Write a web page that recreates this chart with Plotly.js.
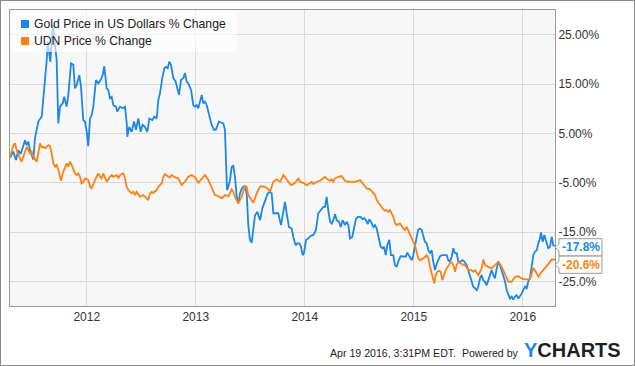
<!DOCTYPE html>
<html><head><meta charset="utf-8">
<script src="https://cdn.plot.ly/plotly-3.0.1.min.js"></script>
<style>
html,body{margin:0;padding:0;background:#fff;}
#wrap{position:relative;width:635px;height:366px;}
#chart{position:absolute;left:0;top:0;width:635px;height:366px;}
#frame{position:absolute;left:0;top:0;width:635px;height:366px;box-sizing:border-box;border:1px solid #8a8a8a;pointer-events:none;}
</style></head><body>
<div id="wrap"><div id="chart"></div><div id="frame"></div></div>
<script>
const seriesNames = ['Gold Price in US Dollars % Change', 'UDN Price % Change'];
const seriesColors = ['#1b87e6', '#fd8214'];

const goldYears = [
2011.296,2011.326,2011.351,2011.372,2011.394,2011.418,2011.434,2011.449,2011.464,2011.479,
2011.495,2011.510,2011.525,2011.541,2011.556,2011.587,2011.601,2011.617,2011.633,2011.642,
2011.657,2011.666,2011.679,2011.688,2011.724,2011.739,2011.755,2011.779,2011.794,2011.816,
2011.831,2011.856,2011.877,2011.892,2011.908,2011.932,2011.947,2011.968,2011.984,2012.000,
2012.014,2012.030,2012.046,2012.060,2012.085,2012.106,2012.128,2012.146,2012.161,2012.183,
2012.198,2012.213,2012.229,2012.244,2012.268,2012.280,2012.305,2012.330,2012.351,2012.367,
2012.372,2012.390,2012.412,2012.434,2012.452,2012.473,2012.495,2012.513,2012.534,2012.556,
2012.574,2012.601,2012.620,2012.642,2012.657,2012.672,2012.693,2012.712,2012.727,2012.743,
2012.757,2012.773,2012.794,2012.816,2012.831,2012.846,2012.865,2012.886,2012.901,2012.917,
2012.932,2012.957,2012.978,2012.993,2013.009,2013.023,2013.039,2013.055,2013.069,2013.085,
2013.101,2013.115,2013.131,2013.146,2013.168,2013.186,2013.201,2013.213,2013.232,2013.253,
2013.268,2013.278,2013.287,2013.299,2013.314,2013.330,2013.345,2013.360,2013.376,2013.390,
2013.406,2013.422,2013.436,2013.452,2013.468,2013.482,2013.498,2013.513,2013.528,2013.544,
2013.565,2013.590,2013.611,2013.635,2013.660,2013.681,2013.697,2013.712,2013.736,2013.757,
2013.782,2013.803,2013.819,2013.834,2013.856,2013.880,2013.895,2013.917,2013.932,2013.950,
2013.966,2013.981,2013.993,2014.012,2014.033,2014.055,2014.079,2014.103,2014.124,2014.146,
2014.170,2014.186,2014.201,2014.216,2014.232,2014.247,2014.262,2014.278,2014.293,2014.314,
2014.330,2014.348,2014.369,2014.385,2014.400,2014.415,2014.436,2014.452,2014.470,2014.491,
2014.513,2014.532,2014.546,2014.562,2014.578,2014.592,2014.608,2014.629,2014.645,2014.660,
2014.675,2014.697,2014.712,2014.727,2014.743,2014.757,2014.776,2014.791,2014.812,2014.828,
2014.844,2014.858,2014.880,2014.904,2014.926,2014.941,2014.959,2014.981,2014.996,2015.012,
2015.027,2015.042,2015.057,2015.073,2015.088,2015.103,2015.119,2015.134,2015.149,2015.165,
2015.179,2015.195,2015.211,2015.225,2015.241,2015.262,2015.287,2015.302,2015.317,2015.333,
2015.348,2015.363,2015.378,2015.394,2015.409,2015.431,2015.445,2015.464,2015.486,2015.501,
2015.516,2015.532,2015.546,2015.562,2015.578,2015.592,2015.608,2015.623,2015.638,2015.654,
2015.669,2015.684,2015.700,2015.715,2015.730,2015.745,2015.761,2015.776,2015.791,2015.807,
2015.822,2015.837,2015.853,2015.867,2015.883,2015.899,2015.913,2015.929,2015.944,2015.959,
2015.975,2015.990,2016.005,2016.021,2016.036,2016.051,2016.066,2016.082,2016.097,2016.112,
2016.128,2016.143,2016.158,2016.167,2016.183,2016.198,2016.220,2016.234,2016.250,2016.266,
2016.280,2016.296];
const goldPct = [
0,1.3,-0.4,1.6,0.8,2.6,3.6,2.6,3.3,1.6,
0.6,-0.3,4.0,5.7,7.4,8.4,11.8,15.8,19.9,23.6,
21.2,19.5,23.9,27.0,19.9,7.0,10.4,11.1,12.4,10.4,
12.8,19.2,18.9,14.1,14.8,16.8,14.5,7.7,7.4,5.3,
2.4,8.0,8.7,10.4,15.8,15.1,15.8,16.8,18.6,14.1,
13.8,12.1,12.4,10.7,10.4,9.4,10.4,10.1,10.4,7.0,
4.3,6.3,5.3,7.4,5.7,8.0,5.3,6.7,6.3,5.3,
8.0,7.7,8.4,8.0,11.8,13.1,16.2,18.2,18.5,18.2,
19.5,18.9,16.2,15.5,14.1,12.8,15.8,16.2,17.2,15.5,
15.1,13.8,10.7,10.4,10.7,10.1,11.4,12.8,11.1,11.4,
10.7,9.4,8.0,6.7,5.7,5.8,6.7,7.4,7.2,7.0,
5.7,0.3,-6.5,-5.8,-4.5,-1.8,-1.6,-3.8,-7.9,-9.2,
-7.2,-6.2,-5.8,-5.8,-7.2,-13.6,-16.6,-17.2,-14.6,-11.6,
-10.9,-12.6,-10.2,-8.5,-7.2,-6.8,-7.2,-11.2,-11.2,-11.2,
-13.6,-10.6,-8.9,-11.2,-14.0,-14.3,-16.0,-17.7,-17.3,-17.3,
-18.0,-19.7,-19.3,-16.6,-16.3,-15.8,-15.6,-14.6,-11.2,-10.6,
-9.9,-9.9,-7.9,-10.6,-12.9,-13.3,-12.6,-11.4,-12.6,-12.9,
-14.0,-12.6,-13.6,-12.9,-13.6,-16.3,-16.0,-14.3,-12.3,-11.9,
-12.0,-12.4,-12.2,-12.6,-13.4,-12.4,-12.9,-14.0,-13.6,-14.3,
-16.0,-18.0,-18.3,-18.0,-19.7,-17.7,-16.6,-19.7,-19.7,-21.7,
-22.1,-21.0,-19.9,-19.9,-20.0,-19.2,-20.0,-20.7,-19.7,-17.5,
-16.0,-14.5,-14.3,-14.6,-16.0,-17.0,-17.3,-18.7,-19.3,-18.7,
-21.0,-22.7,-21.4,-20.7,-19.9,-19.7,-19.7,-19.7,-20.7,-21.0,
-20.0,-18.3,-19.3,-19.3,-21.0,-21.0,-20.7,-21.0,-21.7,-22.7,
-24.1,-24.8,-26.1,-26.4,-26.8,-26.1,-24.4,-23.7,-24.8,-25.1,
-25.8,-24.8,-23.4,-22.7,-23.7,-24.4,-22.4,-21.0,-21.7,-22.7,
-23.7,-25.0,-26.8,-27.8,-28.5,-28.1,-28.7,-28.1,-27.8,-28.5,
-28.1,-27.5,-26.8,-26.1,-26.4,-25.0,-24.4,-21.7,-19.7,-19.0,
-18.7,-17.3,-16.3,-15.1,-17.0,-15.6,-17.3,-18.3,-18.0,-16.0,
-17.7,-17.8];

const udnYears = [
2011.296,2011.327,2011.342,2011.357,2011.388,2011.403,2011.418,2011.449,2011.479,2011.495,
2011.510,2011.541,2011.571,2011.587,2011.602,2011.617,2011.648,2011.663,2011.678,2011.694,
2011.709,2011.724,2011.739,2011.755,2011.764,2011.779,2011.801,2011.816,2011.831,2011.846,
2011.862,2011.877,2011.892,2011.908,2011.923,2011.938,2011.953,2011.969,2011.984,2012.015,
2012.030,2012.045,2012.061,2012.076,2012.091,2012.106,2012.122,2012.137,2012.152,2012.168,
2012.183,2012.213,2012.229,2012.244,2012.275,2012.290,2012.305,2012.336,2012.351,2012.366,
2012.382,2012.412,2012.427,2012.443,2012.458,2012.489,2012.519,2012.550,2012.565,2012.580,
2012.596,2012.611,2012.626,2012.642,2012.657,2012.687,2012.703,2012.718,2012.749,2012.764,
2012.779,2012.810,2012.840,2012.856,2012.871,2012.901,2012.932,2012.963,2012.993,2013.024,
2013.054,2013.085,2013.116,2013.146,2013.177,2013.207,2013.238,2013.268,2013.299,2013.330,
2013.345,2013.360,2013.391,2013.421,2013.452,2013.467,2013.482,2013.528,2013.559,2013.590,
2013.605,2013.635,2013.666,2013.681,2013.712,2013.742,2013.773,2013.804,2013.834,2013.865,
2013.880,2013.911,2013.941,2013.956,2013.987,2014.018,2014.048,2014.064,2014.079,2014.109,
2014.140,2014.171,2014.186,2014.216,2014.232,2014.247,2014.262,2014.278,2014.308,2014.339,
2014.369,2014.400,2014.430,2014.461,2014.507,2014.538,2014.568,2014.599,2014.629,2014.645,
2014.660,2014.690,2014.721,2014.736,2014.752,2014.767,2014.782,2014.813,2014.828,2014.843,
2014.874,2014.904,2014.920,2014.935,2014.966,2014.996,2015.011,2015.042,2015.057,2015.088,
2015.119,2015.134,2015.149,2015.164,2015.189,2015.201,2015.216,2015.232,2015.247,2015.262,
2015.278,2015.293,2015.323,2015.339,2015.354,2015.369,2015.378,2015.394,2015.409,2015.440,
2015.470,2015.501,2015.531,2015.547,2015.562,2015.593,2015.608,2015.623,2015.638,2015.654,
2015.684,2015.715,2015.745,2015.776,2015.807,2015.837,2015.868,2015.898,2015.929,2015.959,
2015.990,2016.021,2016.051,2016.067,2016.082,2016.097,2016.112,2016.143,2016.174,2016.204,
2016.235,2016.265,2016.296];
const udnPct = [
0,2.63,2.97,1.61,-0.07,-0.76,0.25,2.28,0.94,1.27,
0.25,-0.76,2.97,2.16,2.28,1.96,2.63,2.42,0.94,-1.09,
-1.77,-1.43,-2.44,-4.13,-4.61,-3.11,-1.77,-1.09,-1.77,-0.76,
-1.43,-2.30,-3.11,-3.46,-3.11,-3.80,-5.14,-4.82,-4.13,-4.47,
-5.83,-6.16,-5.14,-4.47,-3.80,-3.11,-3.80,-4.13,-3.11,-4.13,
-4.82,-3.80,-3.46,-3.80,-3.46,-4.13,-3.46,-3.11,-4.13,-5.83,
-6.50,-7.17,-6.85,-7.51,-6.85,-7.86,-7.51,-8.18,-8.53,-7.17,
-6.85,-7.05,-6.85,-6.50,-5.83,-5.14,-3.80,-3.26,-3.80,-3.93,
-3.46,-3.93,-4.13,-4.82,-5.49,-4.82,-3.80,-3.46,-3.93,-5.02,
-4.33,-3.46,-4.47,-5.83,-7.51,-7.72,-8.18,-7.51,-7.72,-6.36,
-6.85,-7.86,-9.20,-7.86,-5.69,-5.83,-7.51,-9.08,-7.17,-5.83,
-5.69,-5.83,-6.36,-6.85,-4.82,-4.33,-4.82,-3.46,-4.47,-5.28,
-5.49,-5.02,-4.13,-4.82,-5.02,-5.49,-5.14,-4.82,-5.28,-4.82,
-4.61,-3.93,-3.80,-4.47,-4.61,-4.33,-4.82,-4.13,-3.80,-3.66,
-4.61,-4.82,-4.82,-4.82,-4.47,-5.28,-6.16,-6.36,-7.05,-7.51,
-8.53,-9.54,-10.42,-10.70,-10.56,-10.90,-10.56,-11.92,-13.13,-13.60,
-13.26,-14.27,-14.61,-13.95,-15.63,-16.99,-17.66,-20.35,-20.70,-20.35,
-19.69,-20.35,-22.06,-23.40,-25.43,-23.74,-23.07,-22.87,-23.07,-24.76,
-23.74,-22.73,-21.71,-21.04,-21.37,-22.06,-23.07,-21.71,-21.04,-21.51,
-21.71,-22.73,-22.73,-23.07,-22.73,-23.74,-23.07,-22.38,-20.56,-21.71,
-22.06,-22.38,-21.71,-21.04,-22.06,-23.74,-25.10,-25.10,-24.09,-23.95,
-24.41,-24.61,-24.61,-24.41,-23.40,-22.38,-22.73,-24.09,-23.07,-22.38,
-21.51,-20.56,-20.6];

const xTickVals = [2012, 2013, 2014, 2015, 2016];
const xTickText = ['2012', '2013', '2014', '2015', '2016'];
const yTickVals = [25, 15, 5, -5, -15, -25];
const yTickText = ['25.00%', '15.00%', '5.00%', '-5.00%', '-15.0%', '-25.0%'];
const endLabels = ['-17.8%', '-20.6%'];
const footerText = 'Apr 19 2016, 3:31PM EDT.  Powered by';
const brandY = 'Y';
const brandRest = 'CHARTS';

const FONT = 'Arial, "Liberation Sans", sans-serif';
const M = {l: 10, r: 80, t: 10, b: 60};
const PW = 635 - M.l - M.r, PH = 366 - M.t - M.b;
const px2x = p => (p - M.l) / PW;
const px2y = p => 1 - (p - M.t) / PH;
const Y0 = -30, Y1 = 30;

const traces = [
  {x: goldYears, y: goldPct, type: 'scatter', mode: 'lines', name: seriesNames[0],
   line: {color: seriesColors[0], width: 1.8}, hoverinfo: 'skip', showlegend: false},
  {x: udnYears, y: udnPct, type: 'scatter', mode: 'lines', name: seriesNames[1],
   line: {color: seriesColors[1], width: 1.8}, hoverinfo: 'skip', showlegend: false}
];

const shapes = [];
const annotations = [];

// legend box
shapes.push({type: 'rect', xref: 'paper', yref: 'paper', x0: px2x(11), x1: px2x(237), y0: px2y(52), y1: px2y(11),
  fillcolor: 'rgba(255,255,255,0.65)', line: {width: 0}, layer: 'above'});
const legendRowsY = [24, 41];
seriesNames.forEach((nm, i) => {
  const cy = legendRowsY[i];
  shapes.push({type: 'rect', xref: 'paper', yref: 'paper', x0: px2x(21), x1: px2x(29), y0: px2y(cy + 4), y1: px2y(cy - 4),
    fillcolor: seriesColors[i], line: {width: 0}, layer: 'above'});
  annotations.push({xref: 'paper', yref: 'paper', x: px2x(31.7), y: px2y(cy), xanchor: 'left', yanchor: 'middle',
    text: nm, showarrow: false, font: {family: FONT, size: 12.2, color: '#222'}});
});

// end-value callouts
const lastVals = [goldPct[goldPct.length - 1], udnPct[udnPct.length - 1]];
const toPaper = v => (v - Y0) / (Y1 - Y0);
let ypB = toPaper(lastVals[0]) - 1.5 / PH;
let ypO = Math.min(toPaper(lastVals[1]), ypB - 17.4 / PH);
[ypB, ypO].forEach((yp, i) => {
  shapes.push({type: 'path', xref: 'paper', yref: 'paper', xsizemode: 'pixel', ysizemode: 'pixel',
    xanchor: 1, yanchor: yp, path: 'M0,0 L4,3.4 L4,8.6 L47,8.6 L47,-8.6 L4,-8.6 L4,-3.4 Z',
    fillcolor: '#ffffff', line: {color: '#9a9a9a', width: 1}, layer: 'above'});
  annotations.push({xref: 'paper', yref: 'paper', x: 1, xshift: 25.5, y: yp, xanchor: 'center', yanchor: 'middle',
    text: '<b>' + endLabels[i] + '</b>', showarrow: false, font: {family: FONT, size: 12, color: seriesColors[i]}});
});

// footer
annotations.push({xref: 'paper', yref: 'paper', x: px2x(521), y: px2y(352.7), xanchor: 'right', yanchor: 'middle',
  text: footerText.replace(/  /g, ' &nbsp;'), showarrow: false, font: {family: FONT, size: 10.6, color: '#222'}});
annotations.push({xref: 'paper', yref: 'paper', x: px2x(521.5), y: px2y(350), xanchor: 'left', yanchor: 'middle',
  text: '<b><span style="color:' + seriesColors[0] + '">' + brandY + '</span>' + brandRest + '</b>', showarrow: false,
  font: {family: FONT, size: 20, color: '#1f1f1f'}});

const layout = {
  width: 635, height: 366, margin: M,
  paper_bgcolor: '#ffffff', plot_bgcolor: '#f7f7f7',
  font: {family: FONT, size: 12, color: '#333'},
  showlegend: false,
  xaxis: {range: [2011.296, 2016.296], tickvals: xTickVals, ticktext: xTickText, showgrid: true,
    gridcolor: '#d9d9d9', gridwidth: 1, zeroline: false, showline: true, mirror: true,
    linecolor: '#9a9a9a', linewidth: 1, ticks: '', tickfont: {family: FONT, size: 12, color: '#333'}, fixedrange: true},
  yaxis: {range: [Y0, Y1], side: 'right', tickvals: yTickVals, ticktext: yTickText, showgrid: true,
    gridcolor: '#d9d9d9', gridwidth: 1, zeroline: false, showline: true, mirror: true,
    linecolor: '#9a9a9a', linewidth: 1, ticks: '', tickfont: {family: FONT, size: 12, color: '#333'}, fixedrange: true},
  shapes: shapes, annotations: annotations
};

Plotly.newPlot('chart', traces, layout, {staticPlot: true, displayModeBar: false});
</script>
</body></html>
